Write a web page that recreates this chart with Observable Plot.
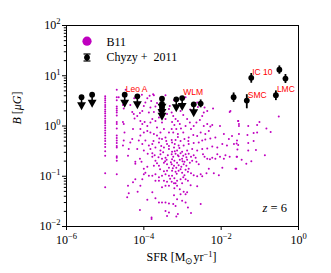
<!DOCTYPE html>
<html>
<head>
<meta charset="utf-8">
<script src="https://cdn.jsdelivr.net/npm/d3@7"></script>
<script src="https://cdn.jsdelivr.net/npm/@observablehq/plot@0.6"></script>
<style>
  html, body { margin: 0; padding: 0; background: #fff; }
  #chart svg { display: block; }
</style>
</head>
<body>
<div id="chart"></div>
<script>
// ---------------- data ----------------
// Axis tick exponents (labels are 10^e)
const xTickExponents = [-6, -4, -2, 0];
const yTickExponents = [-2, -1, 0, 1, 2];
const yMinorMultipliers = [2, 3, 4, 5, 6, 7, 8, 9];

// B11 model galaxies: [log10 SFR (Msun/yr), log10 B (muG)]
const b11 = [
  [-5.0,0.59],[-5.0,0.55],[-5.0,0.51],[-5.0,0.47],[-5.0,0.42],[-5.0,0.38],[-5.0,0.33],[-5.0,0.29],[-5.0,0.25],
  [-5.0,0.20],[-5.0,0.15],[-5.0,0.10],[-5.0,0.06],[-5.0,0.01],[-5.0,-0.04],[-5.0,-0.09],[-5.0,-0.14],[-5.0,-0.19],
  [-5.0,-0.25],[-5.0,-0.30],[-5.0,-0.36],[-5.0,-0.42],[-5.0,-0.50],[-5.0,-0.59],[-5.0,-0.94],[-5.0,-1.22],
  [-4.7,0.72],[-4.7,0.57],[-4.7,0.51],[-4.7,0.39],[-4.7,0.35],[-4.7,0.31],[-4.7,0.27],[-4.7,0.21],[-4.7,0.08],
  [-4.7,0.04],[-4.7,-0.05],[-4.7,-0.19],[-4.7,-0.24],[-4.7,-0.29],[-4.7,-0.34],[-4.7,-0.40],[-4.7,-0.43],
  [-4.7,-0.60],[-4.7,-0.63],[-4.7,-0.69],[-4.7,-0.96],
  [-4.65,0.57],[-4.54,0.42],[-4.52,0.35],[-4.54,0.08],[-4.52,0.04],[-4.50,-0.13],[-4.52,-0.29],[-4.54,-0.39],
  [-4.30,0.28],[-4.26,0.24],[-4.24,0.15],[-4.28,-0.06],[-4.30,-0.26],[-4.35,-0.33],[-4.17,0.20],[-4.10,0.26],
  [-4.04,0.30],[-4.00,0.40],[-3.96,0.47],[-3.91,0.55],[-3.85,0.60],[-3.81,0.50],[-3.76,0.63],[-3.83,0.37],
  [-3.87,0.27],[-3.74,0.28],[-3.70,0.39],[-3.66,0.46],[-4.09,0.10],[-4.04,0.04],[-3.98,0.08],[-3.91,0.00],
  [-3.83,0.07],[-3.78,0.14],[-3.70,0.10],[-3.61,0.17],[-3.53,0.07],[-3.44,0.14],[-3.40,0.24],[-3.35,0.34],
  [-3.48,-0.06],[-3.57,-0.13],[-3.66,-0.19],[-3.74,-0.16],[-3.83,-0.13],[-3.91,-0.10],[-4.00,-0.13],[-4.09,-0.19],
  [-4.13,-0.29],[-4.04,-0.36],[-3.96,-0.29],[-3.87,-0.39],[-3.78,-0.36],[-3.70,-0.43],[-3.61,-0.33],[-3.53,-0.26],
  [-3.44,-0.23],[-3.35,-0.13],[-3.40,-0.36],[-3.48,-0.43],[-3.57,-0.49],[-4.17,-0.46],[-4.00,-0.49],[-3.83,-0.46],
  [-3.35,-0.46],[-4.39,-0.46],[-3.66,-0.03],[-4.09,-0.06],
  [-3.28,0.27],[-3.24,0.20],[-3.18,0.14],[-3.27,0.08],[-3.12,0.10],[-3.21,0.02],[-3.07,0.04],[-3.28,-0.06],
  [-3.16,-0.06],[-3.04,-0.05],[-3.24,-0.13],[-3.12,-0.16],[-2.98,-0.13],[-2.92,0.00],[-2.88,0.14],[-2.81,0.07],
  [-2.78,-0.06],[-2.71,0.00],[-2.64,0.07],[-2.55,0.12],[-2.49,0.20],[-2.45,0.27],[-2.36,0.30],[-2.21,0.35],
  [-2.45,0.00],[-2.36,0.04],[-2.28,-0.01],[-2.23,0.02],[-2.32,-0.10],[-2.41,-0.16],[-2.53,-0.13],[-2.62,-0.20],
  [-2.72,-0.18],[-2.84,-0.23],[-2.95,-0.26],[-3.05,-0.30],[-3.18,-0.28],[-3.27,-0.33],[-3.22,-0.43],[-3.10,-0.39],
  [-2.97,-0.39],[-2.84,-0.36],[-2.71,-0.34],[-2.58,-0.33],[-2.49,-0.29],[-2.41,-0.27],[-2.28,-0.25],[-2.15,-0.23],
  [-2.03,0.00],[-1.93,-0.16],[-1.80,-0.26],[-1.72,-0.20],[-1.67,-0.36],[-1.59,-0.29],[-1.54,-0.16],[-1.85,-0.39],
  [-1.97,-0.36],[-2.10,-0.43],[-2.23,-0.41],[-2.36,-0.45],[-2.49,-0.46],[-2.62,-0.49],[-2.75,-0.46],[-2.88,-0.49],
  [-3.01,-0.51],[-3.14,-0.49],[-3.27,-0.51],[-1.78,0.28],[-1.56,0.10],[-1.54,0.00],
  [-4.41,-0.59],[-4.22,-0.71],[-4.22,-0.75],[-4.10,-0.65],[-4.06,-0.71],[-4.00,-0.85],[-3.91,-0.81],[-3.78,-0.54],
  [-3.78,-0.61],[-3.74,-0.79],[-3.70,-0.69],[-3.61,-0.79],[-3.57,-0.56],[-3.53,-0.65],[-3.48,-0.73],[-3.44,-0.63],
  [-3.41,-0.67],[-3.40,-0.76],[-3.35,-0.83],[-3.40,-0.89],[-3.44,-0.96],[-3.35,-0.99],[-3.53,-0.99],[-3.61,-1.02],
  [-3.70,-0.96],[-3.78,-0.99],[-3.87,-0.99],[-3.96,-0.93],[-4.00,-0.96],[-4.04,-1.06],[-4.22,-1.06],[-4.28,-1.12],
  [-4.41,-1.19],[-4.09,-1.19],[-3.70,-1.09],[-3.61,-1.09],[-3.48,-1.09],[-3.40,-1.11],[-3.35,-1.19],[-3.44,-1.19],
  [-3.53,-1.22],[-4.16,-1.31],[-3.78,-1.32],[-4.39,-1.34],[-3.70,-1.44],[-3.61,-1.52],[-3.53,-1.52],[-3.44,-1.52],
  [-3.35,-1.54],[-3.91,-1.47],[-3.44,-1.69],[-3.35,-1.72],[-4.10,-1.67],[-3.80,-1.82],[-3.80,-1.85],[-3.40,-1.79],
  [-4.43,-1.42],
  [-3.28,-0.56],[-3.24,-0.61],[-3.18,-0.55],[-3.12,-0.58],[-3.05,-0.54],[-2.98,-0.59],[-2.92,-0.56],[-2.84,-0.55],
  [-2.78,-0.61],[-2.71,-0.58],[-2.66,-0.63],[-3.27,-0.66],[-3.21,-0.69],[-3.14,-0.73],[-3.07,-0.67],[-3.01,-0.65],
  [-2.95,-0.71],[-2.88,-0.67],[-2.81,-0.73],[-2.75,-0.69],[-2.64,-0.71],[-2.58,-0.76],[-2.47,-0.56],[-2.43,-0.61],
  [-2.36,-0.65],[-2.29,-0.66],[-2.23,-0.63],[-2.15,-0.65],[-2.10,-0.56],[-2.03,-0.61],[-1.93,-0.65],[-1.89,-0.58],
  [-1.78,-0.61],[-1.59,-0.61],[-3.28,-0.76],[-3.22,-0.79],[-3.16,-0.83],[-3.10,-0.78],[-3.03,-0.81],[-2.97,-0.76],
  [-2.90,-0.79],[-2.84,-0.85],[-3.27,-0.89],[-3.18,-0.91],[-3.10,-0.89],[-3.01,-0.93],[-2.92,-0.87],[-2.86,-0.91],
  [-2.78,-0.94],[-2.71,-0.98],[-2.62,-1.00],[-2.53,-0.96],[-2.49,-1.00],[-2.38,-0.94],[-2.32,-0.85],[-2.19,-0.94],
  [-2.06,-0.98],[-1.97,-0.83],[-1.63,-0.85],[-3.27,-0.99],[-3.21,-1.04],[-3.28,-1.11],[-3.22,-1.14],[-3.14,-1.09],
  [-3.05,-1.06],[-2.98,-1.02],[-2.92,-1.06],[-2.86,-1.09],[-2.79,-1.18],[-2.62,-1.20],[-3.01,-1.14],[-3.14,-1.19],
  [-3.07,-1.26],[-3.21,-1.24],[-2.97,-1.31],[-2.88,-1.32],[-2.92,-1.36],[-3.05,-1.36],[-3.22,-1.38],[-3.14,-1.46],
  [-3.01,-1.49],[-2.92,-1.52],[-3.24,-1.55],[-3.18,-1.59],[-2.86,-1.62],[-2.53,-1.55],[-2.78,-1.73],[-3.12,-1.75],
  [-3.16,-1.80],
  [-1.56,0.10],[-1.54,0.04],[-1.30,0.00],[-1.07,0.02],[-1.01,0.08],[-0.83,-0.05],[-0.72,-0.12],[-1.32,-0.18],
  [-1.16,-0.14],[-1.07,-0.13],[-1.16,-0.30],[-1.60,-0.35],[-1.30,-0.34],[-1.56,-0.38],[-1.58,-0.47],[-1.30,-0.49],
  [-1.10,-0.48],[-0.87,-0.58],[-1.60,-0.61],[-1.47,-0.67],[-1.35,-0.75],[-1.22,-0.70],[-1.61,-0.85],[-0.51,0.19],
  [-3.50,-0.52],[-3.45,-0.70],[-3.38,-0.58],[-3.30,-0.72],[-3.25,-0.84],[-3.20,-0.50],[-3.15,-0.95],[-3.10,-0.60],
  [-3.05,-0.86],[-3.00,-0.70],[-2.95,-0.98],[-3.35,-0.40],[-3.28,-0.28],[-3.20,-0.36],[-3.12,-0.22],[-3.55,-0.40],
  [-3.62,-0.62],[-3.58,-0.86],[-3.66,-0.74],[-3.72,-0.58],[-3.48,-0.90],[-3.32,-1.05],[-3.18,-1.14],[-3.08,-0.44],
  [-2.90,-0.62],[-2.85,-0.30],[-3.42,-0.30],[-3.60,-0.25],[-3.75,-0.30],[-3.90,-0.55],
  [-3.52,0.45],[-3.49,0.32],[-3.33,0.40],[-3.15,0.38],[-3.05,0.30],[-2.98,0.22],[-2.80,0.33],[-2.70,0.25],
  [-2.60,0.38],[-3.60,0.30],[-4.25,0.55],[-4.35,0.42],[-4.15,0.45],[-4.05,0.62],[-2.62,0.47],[-2.43,0.37],
  [-2.92,0.57],[-3.22,0.51],[-3.44,0.61],[-3.74,0.61],[-4.47,0.72],[-1.76,0.30]
];

// Chyzy et al. 2011 dwarf galaxies
const chyzySFR   = [2.45e-6, 4.6e-6, 3.2e-5, 6.8e-5, 2.95e-4, 2.95e-4, 2.95e-4, 6.9e-4, 9.8e-4, 1.95e-3,
                    2.95e-3, 0.021, 0.046, 0.060, 0.26, 0.32, 0.46];
const chyzyB     = [3.75, 4.2, 4.2, 3.9, 3.5, 2.75, 2.3, 3.4, 3.6, 2.7,
                    2.8, 3.75, 3.2, 9.1, 4.1, 13.2, 8.8];
const chyzyErr   = [0, 0, 0, 0, 0, 0, 0, 0, 0, 0,
                    0.5, 0.8, 1.0, 2.0, 0.9, 2.5, 1.8];
const chyzyUpper = [true, true, true, true, true, true, true, true, true, true,
                    false, false, false, false, false, false, false];
const chyzyName  = ["", "", "Leo A", "", "", "", "", "", "WLM", "",
                    "", "", "SMC", "IC 10", "LMC", "", ""];

// ---------------- build ----------------
const xMajorTicks = xTickExponents.map(e => 10 ** e);
const yMajorTicks = yTickExponents.map(e => 10 ** e);
const yMinorTicks = yTickExponents.slice(0, -1).flatMap(e => yMinorMultipliers.map(m => m * 10 ** e));

const b11Data = b11.map(([lx, ly]) => ({sfr: 10 ** lx, b: 10 ** ly}));
const chyzy = chyzySFR.map((s, i) => ({sfr: s, b: chyzyB[i], err: chyzyErr[i], upper: chyzyUpper[i], name: chyzyName[i]}));
const lim = chyzy.filter(d => d.upper);
const det = chyzy.filter(d => !d.upper);

const triangleDown = {
  draw(ctx, size) {
    const s = Math.sqrt(size);
    ctx.moveTo(-0.5 * s, -0.35 * s);
    ctx.lineTo(0.5 * s, -0.35 * s);
    ctx.lineTo(0, 0.55 * s);
    ctx.closePath();
  }
};

const expFmt = d => "10^" + Math.round(Math.log10(d));
const serif = "'Liberation Serif', 'Times New Roman', serif";
const sans = "'Liberation Sans', Arial, sans-serif";

const plot = Plot.plot({
  width: 331,
  height: 273,
  marginLeft: 66,
  marginRight: 33,
  marginTop: 25,
  marginBottom: 47,
  x: {type: "log", domain: [1e-6, 1]},
  y: {type: "log", domain: [1e-2, 1e2]},
  style: {fontFamily: serif, fontSize: "12px", color: "black", background: "white", overflow: "visible"},
  marks: [
    Plot.dot(b11Data, {x: "sfr", y: "b", r: 1.0, fill: "#c000c0", stroke: null}),
    Plot.ruleX(lim, {x: "sfr", y1: "b", y2: d => d.b * 0.72, stroke: "black", strokeWidth: 1.6}),
    Plot.dot(lim, {x: "sfr", y: d => d.b * 0.69, symbol: triangleDown, r: 5.0, fill: "black", stroke: null}),
    Plot.ruleX(det, {x: "sfr", y1: d => d.b - d.err, y2: d => d.b + d.err, stroke: "black", strokeWidth: 1.8}),
    Plot.dot(chyzy, {x: "sfr", y: "b", r: 2.9, fill: "black", stroke: null}),
    Plot.text(chyzy.filter(d => d.name), {
      x: "sfr", y: "b", text: "name", textAnchor: "start", dx: 1, dy: -5.5,
      fill: "#ff0000", fontFamily: sans, fontSize: 8.5
    }),
    Plot.axisX({ticks: xMajorTicks, tickSize: 4, tickPadding: 5, tickFormat: expFmt, label: null, fontSize: 12}),
    Plot.axisY({ticks: yMajorTicks, tickSize: 4, tickPadding: 2, tickFormat: expFmt, label: null, fontSize: 12}),
    Plot.axisY({ticks: yMinorTicks, tickSize: 2.2, tickFormat: () => "", label: null}),
    Plot.frame({stroke: "black", strokeWidth: 1})
  ]
});

document.getElementById("chart").appendChild(plot);

// ---------------- text post-processing ----------------
const svg = d3.select(plot);

// superscript exponents on tick labels
svg.selectAll("text").each(function () {
  const m = /^10\^(-?\d+)$/.exec(this.textContent);
  if (!m) return;
  const t = d3.select(this);
  t.text("10");
  t.append("tspan").attr("dy", "-5").style("font-size", "8.5px").text(m[1].replace("-", "\u2212"));
});

// x-axis label: SFR [M_sun yr^-1]
const xl = svg.append("text")
  .attr("x", 181.5).attr("y", 261)
  .attr("text-anchor", "middle")
  .style("font-family", serif).style("font-size", "12px").attr("fill", "black");
xl.append("tspan").text("SFR [M");
xl.append("tspan").attr("dy", 3).style("font-size", "8.5px").text("\u2299");
xl.append("tspan").attr("dy", -3).text("yr");
xl.append("tspan").attr("dy", -4.5).style("font-size", "8.5px").text("\u22121");
xl.append("tspan").attr("dy", 4.5).text("]");

// y-axis label: B [muG]
const yl = svg.append("text")
  .attr("transform", "translate(21,108) rotate(-90)")
  .attr("text-anchor", "middle")
  .style("font-family", serif).style("font-size", "12px").attr("fill", "black");
yl.append("tspan").style("font-style", "italic").text("B");
yl.append("tspan").text(" [");
yl.append("tspan").style("font-style", "italic").text("\u03bcG");
yl.append("tspan").text("]");

// redshift annotation
const zt = svg.append("text")
  .attr("x", 287).attr("y", 212)
  .attr("text-anchor", "end")
  .style("font-family", serif).style("font-size", "12.5px").attr("fill", "black");
zt.append("tspan").style("font-style", "italic").text("z");
zt.append("tspan").text(" = 6");

// legend
const lg = svg.append("g").attr("text-anchor", "start");
lg.append("circle").attr("cx", 87).attr("cy", 41.2).attr("r", 4.6).attr("fill", "#bf00bf");
lg.append("text").attr("x", 106.5).attr("y", 45.5).attr("text-anchor", "start")
  .style("font-family", serif).style("font-size", "12px").attr("fill", "black").text("B11");
lg.append("line").attr("x1", 87).attr("x2", 87).attr("y1", 54).attr("y2", 61).attr("stroke", "black").attr("stroke-width", 1.6);
lg.append("line").attr("x1", 83.5).attr("x2", 90.5).attr("y1", 54).attr("y2", 54).attr("stroke", "black").attr("stroke-width", 1.2);
lg.append("line").attr("x1", 83.5).attr("x2", 90.5).attr("y1", 61).attr("y2", 61).attr("stroke", "black").attr("stroke-width", 1.2);
lg.append("circle").attr("cx", 87).attr("cy", 57.5).attr("r", 2.9).attr("fill", "black");
lg.append("text").attr("x", 106.5).attr("y", 60.5).attr("text-anchor", "start")
  .style("font-family", serif).style("font-size", "12px").attr("fill", "black").text("Chyzy +\u00a0\u00a02011");
</script>
</body>
</html>
